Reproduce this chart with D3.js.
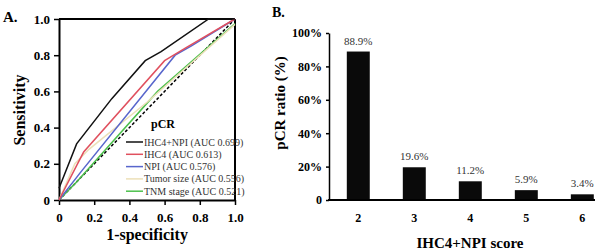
<!DOCTYPE html>
<html><head><meta charset="utf-8">
<script src="https://cdn.jsdelivr.net/npm/d3@7"></script>
<style>
html,body{margin:0;padding:0;background:#fff;}
svg text{font-family:"Liberation Serif","Times New Roman",serif;}
</style></head>
<body>
<svg id="c" width="600" height="252"></svg>
<script>
// ---- Panel A: ROC curves ----
const rocNames = ["IHC4+NPI (AUC 0.699)","IHC4 (AUC 0.613)","NPI (AUC 0.576)","Tumor size (AUC 0.556)","TNM stage (AUC 0.521)"];
const rocColors = ["#111111","#e0505e","#5866cc","#ece0b8","#4cc04c"];
const rocIHC4NPI = [[0,0.065],[0.1,0.31],[0.3,0.56],[0.49,0.77],[0.58,0.82],[0.85,1.0],[1,1]];
const rocIHC4 = [[0,0],[0.1,0.19],[0.14,0.265],[0.6,0.77],[0.72,0.84],[1,1]];
const rocNPI = [[0,0],[0.12,0.15],[0.66,0.8],[0.75,0.85],[1,1]];
const rocTumor = [[0,0],[0.09,0.2],[0.17,0.28],[0.5,0.54],[1,0.97]];
const rocTNM = [[0,0],[0.1,0.1],[0.56,0.6],[1,0.975]];
const rocSeries = [rocIHC4NPI, rocIHC4, rocNPI, rocTumor, rocTNM];
const rocTicks = [0,0.2,0.4,0.6,0.8,1.0];

// ---- Panel B: bar chart ----
const scoreCats = ["2","3","4","5","6"];
const pcrRatio = [88.9,19.6,11.2,5.9,3.4];
const pcrLabels = ["88.9%","19.6%","11.2%","5.9%","3.4%"];
const pctTicks = [0,20,40,60,80,100];

const svg = d3.select("#c");

// Panel A
const xA = d3.scaleLinear().domain([0,1]).range([59,235]);
const yA = d3.scaleLinear().domain([0,1]).range([200,19]);
const gA = svg.append("g");
const fmtA = d => d===0 ? "0" : d3.format(".1f")(d);

const axXA = gA.append("g").attr("transform","translate(0,200)")
  .call(d3.axisBottom(xA).tickValues(rocTicks).tickFormat(fmtA).tickSize(5).tickSizeOuter(0));
const axYA = gA.append("g").attr("transform","translate(59,0)")
  .call(d3.axisLeft(yA).tickValues(rocTicks).tickFormat(fmtA).tickSize(5).tickSizeOuter(0));
[axXA, axYA].forEach(a=>{
  a.selectAll("path").attr("stroke","#000").attr("stroke-width",2);
  a.selectAll("line").attr("stroke","#000").attr("stroke-width",1.5);
  a.selectAll("text").attr("font-size",13).attr("font-weight","bold").attr("fill","#000")
   .attr("font-family","Liberation Serif, serif");
});
axXA.selectAll("text").attr("dy","1.05em");
axYA.selectAll("text").attr("dx","-1");
// box top and right
gA.append("line").attr("x1",xA(0)).attr("x2",xA(1)).attr("y1",yA(1)).attr("y2",yA(1)).attr("stroke","#000").attr("stroke-width",2);
gA.append("line").attr("x1",xA(1)).attr("x2",xA(1)).attr("y1",yA(0)).attr("y2",yA(1)).attr("stroke","#000").attr("stroke-width",2);

// diagonal
gA.append("line").attr("x1",xA(0)).attr("y1",yA(0)).attr("x2",xA(1)).attr("y2",yA(1))
  .attr("stroke","#000").attr("stroke-width",1.5).attr("stroke-dasharray","3,2");

const line = d3.line().x(d=>xA(d[0])).y(d=>yA(d[1]));
// draw in reverse order so black is on top
for (let i = rocSeries.length-1; i>=0; i--) {
  gA.append("path").datum(rocSeries[i]).attr("d",line).attr("fill","none")
    .attr("stroke",rocColors[i]).attr("stroke-width",1.5);
}

// legend
gA.append("text").attr("x",163).attr("y",128).attr("text-anchor","middle")
  .attr("font-size",12).attr("font-weight","bold").text("pCR");
rocNames.forEach((n,i)=>{
  const y = 142 + i*12.3;
  gA.append("line").attr("x1",126).attr("x2",143).attr("y1",y).attr("y2",y)
    .attr("stroke",rocColors[i]).attr("stroke-width",1.5);
  gA.append("text").attr("x",144).attr("y",y+3.5).attr("font-size",10).attr("fill","#333").text(n);
});

gA.append("text").attr("x",147).attr("y",240).attr("text-anchor","middle")
  .attr("font-size",16).attr("font-weight","bold").text("1-specificity");
gA.append("text").attr("transform","translate(25,110) rotate(-90)").attr("text-anchor","middle")
  .attr("font-size",16).attr("font-weight","bold").text("Sensitivity");
gA.append("text").attr("x",3).attr("y",22).attr("font-size",15).attr("font-weight","bold").text("A.");

// Panel B
const xB = d3.scaleBand().domain(scoreCats).range([330,610.6]).paddingInner(0.59).paddingOuter(0.3);
const yB = d3.scaleLinear().domain([0,100]).range([200,33]);
const gB = svg.append("g");

gB.selectAll("rect.bar").data(pcrRatio).join("rect").attr("class","bar")
  .attr("x",(d,i)=>xB(scoreCats[i])).attr("width",xB.bandwidth())
  .attr("y",d=>yB(d)).attr("height",d=>yB(0)-yB(d)).attr("fill","#0a0a0a");

gB.selectAll("text.val").data(pcrRatio).join("text").attr("class","val")
  .attr("x",(d,i)=>xB(scoreCats[i])+xB.bandwidth()/2).attr("y",d=>yB(d)-7)
  .attr("text-anchor","middle").attr("font-size",11).attr("fill","#333")
  .text((d,i)=>pcrLabels[i]);

const axYB = gB.append("g").attr("transform","translate(329,0)")
  .call(d3.axisLeft(yB).tickValues(pctTicks).tickFormat(d=>d===0?"0":d+"%").tickSize(3).tickSizeOuter(0));
axYB.selectAll("path").attr("stroke","#000").attr("stroke-width",1.5);
axYB.selectAll("line").attr("stroke","#000").attr("stroke-width",1.5);
axYB.selectAll("text").attr("font-size",12).attr("font-weight","bold").attr("fill","#000").attr("dx","-1")
  .attr("font-family","Liberation Serif, serif");

const axXB = gB.append("g").attr("transform","translate(0,200)")
  .call(d3.axisBottom(xB).tickSize(0).tickSizeOuter(0));
axXB.select("path").remove();
axXB.selectAll("text").attr("font-size",12).attr("font-weight","bold").attr("fill","#000")
  .attr("dy","1.6em").attr("font-family","Liberation Serif, serif");
gB.append("line").attr("x1",328).attr("x2",595).attr("y1",200).attr("y2",200).attr("stroke","#000").attr("stroke-width",2);

gB.append("text").attr("x",470).attr("y",248).attr("text-anchor","middle")
  .attr("font-size",15).attr("font-weight","bold").text("IHC4+NPI score");
gB.append("text").attr("transform","translate(285,103) rotate(-90)").attr("text-anchor","middle")
  .attr("font-size",15).attr("font-weight","bold").text("pCR ratio (%)");
gB.append("text").attr("x",272).attr("y",17).attr("font-size",14).attr("font-weight","bold").text("B.");
</script>
</body></html>
